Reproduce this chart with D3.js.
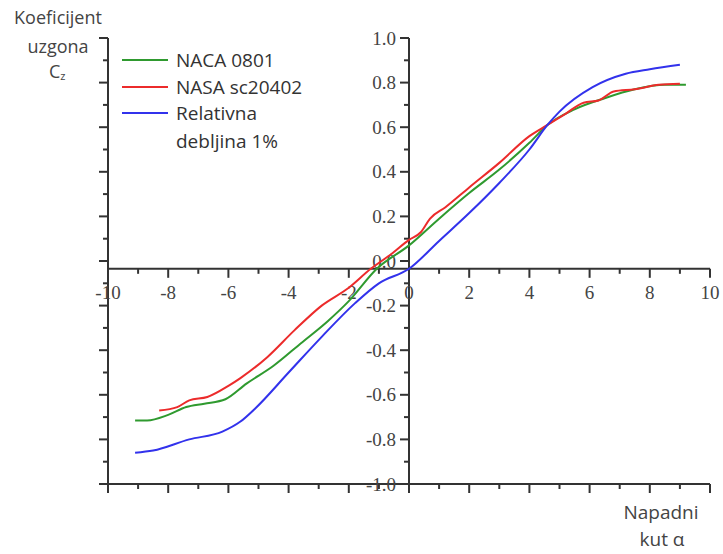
<!DOCTYPE html>
<html><head><meta charset="utf-8">
<script src="https://cdn.jsdelivr.net/npm/d3@7"></script>
<style>body{margin:0;background:#fff}</style>
</head><body>
<svg id="c" width="723" height="554"></svg>
<script>
const seriesNames = ["NACA 0801", "NASA sc20402", "Relativna debljina 1%"];
const nacaAlpha = [-9.1,-8.7,-8.0,-7.4,-6.8,-6.1,-5.4,-4.5,-3.6,-2.7,-2.0,-1.07,0,1,2,3,4,4.6,5.5,6.5,7.5,8.5,9.2];
const nacaCz    = [-0.715,-0.715,-0.69,-0.655,-0.64,-0.62,-0.55,-0.47,-0.37,-0.27,-0.18,-0.035,0.07,0.19,0.305,0.41,0.53,0.61,0.68,0.73,0.77,0.79,0.79];
const nasaAlpha = [-8.3,-7.7,-7.3,-6.7,-6.0,-5.6,-4.7,-3.8,-2.9,-2.0,-1.27,-0.6,0,0.4,0.7,1.2,2,3,4,4.6,5.2,5.8,6.3,6.8,7.5,8.3,9.0];
const nasaCz    = [-0.67,-0.655,-0.625,-0.61,-0.56,-0.525,-0.43,-0.31,-0.20,-0.12,-0.035,0.03,0.095,0.13,0.19,0.24,0.33,0.44,0.56,0.61,0.66,0.71,0.72,0.76,0.77,0.79,0.795];
const relAlpha  = [-9.1,-8.5,-7.3,-6.2,-5.6,-5.1,-4.0,-2.9,-1.8,-1,0,1,2,3,4,4.6,5,6.1,7.2,8.0,9.0];
const relCz     = [-0.86,-0.85,-0.80,-0.765,-0.72,-0.66,-0.50,-0.34,-0.19,-0.10,-0.035,0.09,0.215,0.35,0.50,0.61,0.67,0.78,0.84,0.86,0.88];
const xTicks = [-10,-8,-6,-4,-2,0,2,4,6,8,10];
const yTicks = [-1.0,-0.8,-0.6,-0.4,-0.2,0.0,0.2,0.4,0.6,0.8,1.0];
const colors = ["#2f9a2f", "#ec2b2b", "#3232ec"];

const svg = d3.select("#c");
const x = d3.scaleLinear().domain([-10,10]).range([108,710]);
const y = d3.scaleLinear().domain([-1,1]).range([484,38]);
const axisColor = "#333";
const xAxisVal = -0.035;

function drawVAxis(px, labels){
  const g = svg.append("g");
  g.append("line").attr("x1",px).attr("x2",px).attr("y1",y(1)).attr("y2",y(-1))
    .attr("stroke",axisColor).attr("stroke-width",2);
  const minor = d3.range(-10,11).map(d=>d/10);
  minor.forEach((v,i)=>{
    const major = (i%2===0);
    g.append("line").attr("x1",px).attr("x2",px-(major?9:5)).attr("y1",y(v)).attr("y2",y(v))
      .attr("stroke",axisColor).attr("stroke-width",2);
  });
  if(labels){
    yTicks.forEach(v=>{
      g.append("text").attr("x",px-13).attr("y",y(v)).attr("dy","0.35em")
        .attr("text-anchor","end").attr("font-family","Liberation Serif, serif")
        .attr("font-size",19).attr("fill","#444").text(v.toFixed(1));
    });
  }
}
function drawHAxis(py, labels){
  const g = svg.append("g");
  g.append("line").attr("x1",x(-10)).attr("x2",x(10)).attr("y1",py).attr("y2",py)
    .attr("stroke",axisColor).attr("stroke-width",2);
  d3.range(-10,11).forEach(v=>{
    const major = (v%2===0);
    g.append("line").attr("x1",x(v)).attr("x2",x(v)).attr("y1",py).attr("y2",py+(major?9:5))
      .attr("stroke",axisColor).attr("stroke-width",2);
  });
  if(labels){
    xTicks.forEach(v=>{
      g.append("text").attr("x",x(v)).attr("y",py+24).attr("dy","0.35em")
        .attr("text-anchor","middle").attr("font-family","Liberation Serif, serif")
        .attr("font-size",19).attr("fill","#444").text(v);
    });
  }
}
drawVAxis(x(-10), false);
drawHAxis(y(-1), false);
drawVAxis(x(0), true);
drawHAxis(y(xAxisVal), true);

const line = d3.line().x(d=>x(d[0])).y(d=>y(d[1])).curve(d3.curveMonotoneX);
const data = [
  d3.zip(nacaAlpha, nacaCz),
  d3.zip(nasaAlpha, nasaCz),
  d3.zip(relAlpha, relCz)
];
[0,1,2].forEach(i=>{
  svg.append("path").datum(data[i]).attr("d",line).attr("fill","none")
    .attr("stroke",colors[i]).attr("stroke-width",2);
});

// legend
const lg = svg.append("g");
const legY = [60,87,113];
[0,1,2].forEach(i=>{
  lg.append("line").attr("x1",122).attr("x2",168).attr("y1",legY[i]).attr("y2",legY[i])
    .attr("stroke",colors[i]).attr("stroke-width",2);
});
const sans = "Open Sans, Noto Sans, sans-serif";
const lfs = 19;
lg.append("text").attr("x",176).attr("y",legY[0]).attr("dy","0.35em").attr("font-family",sans)
  .attr("font-size",lfs).attr("fill","#333").text(seriesNames[0]);
lg.append("text").attr("x",176).attr("y",legY[1]).attr("dy","0.35em").attr("font-family",sans)
  .attr("font-size",lfs).attr("fill","#333").text(seriesNames[1]);
lg.append("text").attr("x",176).attr("y",legY[2]).attr("dy","0.35em").attr("font-family",sans)
  .attr("font-size",lfs).attr("fill","#333").text("Relativna");
lg.append("text").attr("x",176).attr("y",141).attr("dy","0.35em").attr("font-family",sans)
  .attr("font-size",lfs).attr("fill","#333").text("debljina 1%");

// axis titles
svg.append("text").attr("x",58).attr("y",24).attr("text-anchor","middle").attr("font-family",sans)
  .attr("font-size",18).attr("fill","#444").text("Koeficijent");
svg.append("text").attr("x",58).attr("y",53).attr("text-anchor","middle").attr("font-family",sans)
  .attr("font-size",18).attr("fill","#444").text("uzgona");
const cz = svg.append("text").attr("x",49).attr("y",78).attr("font-family",sans)
  .attr("font-size",18).attr("fill","#444");
cz.append("tspan").text("C");
cz.append("tspan").attr("font-size",11).attr("dy",2).text("z");
svg.append("text").attr("x",661).attr("y",519).attr("text-anchor","middle").attr("font-family",sans)
  .attr("font-size",19).attr("fill","#444").text("Napadni");
svg.append("text").attr("x",662).attr("y",546).attr("text-anchor","middle").attr("font-family",sans)
  .attr("font-size",19).attr("fill","#444").text("kut α");
</script>
</body></html>
